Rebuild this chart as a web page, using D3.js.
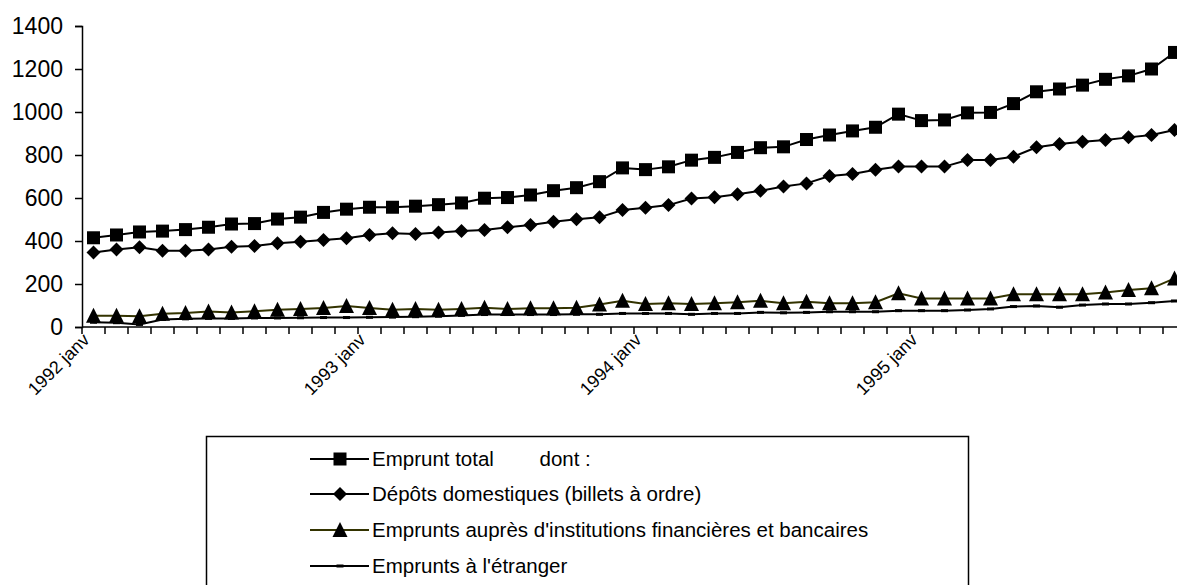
<!DOCTYPE html>
<html><head><meta charset="utf-8">
<script src="https://cdnjs.cloudflare.com/ajax/libs/d3/7.8.5/d3.min.js"></script>
<style>
html,body{margin:0;padding:0;background:#fff;overflow:hidden}
svg{display:block;font-family:"Liberation Sans",Arial,sans-serif}
</style></head><body>
<svg id="chart" width="1177" height="585"></svg>
<script>
// ---- data ----
const years = [1992, 1993, 1994, 1995];
const monthsFr = ["janv","févr","mars","avr","mai","juin","juil","août","sept","oct","nov","déc"];
const categories = years.flatMap(yr => monthsFr.map(m => yr + " " + m));
const tickLabels = ["1992 janv","1993 janv","1994 janv","1995 janv"];
const yTicks = [0,200,400,600,800,1000,1200,1400];

const empruntTotal = [415,428,442,446,453,464,479,481,502,511,533,548,557,557,562,569,577,
  599,602,614,634,648,676,740,732,745,776,789,812,834,838,872,893,912,
  929,990,960,963,996,998,1039,1094,1107,1125,1152,1168,1200,1277];
const depotsDomestiques = [347,361,371,355,355,361,373,377,389,397,405,413,428,436,433,440,447,
  451,464,474,490,501,510,544,555,567,598,603,617,634,653,668,702,712,
  731,746,746,746,777,777,792,836,851,862,870,882,893,916];
const empruntsInstitutions = [52,52,50,62,65,72,68,73,80,84,88,98,88,80,84,80,84,
  90,84,87,87,90,105,122,107,110,107,110,115,122,110,118,110,110,
  115,157,133,133,133,133,152,152,152,152,161,172,180,226];
const empruntsEtranger = [22,20,12,35,38,40,40,42,42,43,44,44,45,46,48,50,54,
  58,58,58,58,59,59,63,63,63,59,63,63,68,66,68,71,71,
  71,76,76,76,79,84,95,98,92,102,107,107,113,121];

const seriesNames = ["Emprunt total        dont :",
  "Dépôts domestiques (billets à ordre)",
  "Emprunts auprès d'institutions financières et bancaires",
  "Emprunts à l'étranger"];

// ---- layout ----
const svg = d3.select("#chart");
const mLeft = 82, mTop = 26, mBottom = 327, step = 23;
const x = d3.scaleBand().domain(categories).range([mLeft, mLeft + step*categories.length]).padding(0);
const y = d3.scaleLinear().domain([0,1400]).range([mBottom, mTop]);
const cx = d => x(d) + x.bandwidth()/2;

const series = [
  {name: seriesNames[0], values: empruntTotal, color:"#000", marker:"square"},
  {name: seriesNames[1], values: depotsDomestiques, color:"#000", marker:"diamond"},
  {name: seriesNames[2], values: empruntsInstitutions, color:"#333300", marker:"triangle"},
  {name: seriesNames[3], values: empruntsEtranger, color:"#000", marker:"dash"}
];

function drawMarker(g, type, px, py) {
  if (type === "square") {
    g.append("rect").attr("x", px-6.5).attr("y", py-6.5).attr("width", 13).attr("height", 13).attr("fill","#000");
  } else if (type === "diamond") {
    g.append("path").attr("d", `M${px},${py-7}L${px+7},${py}L${px},${py+7}L${px-7},${py}Z`).attr("fill","#000");
  } else if (type === "triangle") {
    g.append("path").attr("d", `M${px},${py-8}L${px+7.5},${py+7}L${px-7.5},${py+7}Z`).attr("fill","#000");
  } else {
    g.append("rect").attr("x", px-3.5).attr("y", py-1.5).attr("width", 7).attr("height", 3).attr("fill","#000");
  }
}

// y axis
const yAxis = d3.axisLeft(y).tickValues(yTicks).tickSize(7).tickPadding(12).tickFormat(d3.format("d"));
const gy = svg.append("g").attr("transform", `translate(${mLeft},0)`).call(yAxis);
gy.select(".domain").attr("stroke","#000").attr("stroke-width",1.5);
gy.selectAll(".tick line").attr("stroke","#000").attr("stroke-width",1.5);
gy.selectAll(".tick text").attr("font-size", 23).attr("fill","#000").attr("font-family","Liberation Sans, Arial");

// x axis: ticks at category boundaries
const gx = svg.append("g");
gx.append("line").attr("x1", mLeft).attr("x2", mLeft + step*categories.length).attr("y1", mBottom).attr("y2", mBottom)
  .attr("stroke","#000").attr("stroke-width",1.5);
const boundaries = d3.range(categories.length + 1);
gx.selectAll("line.tk").data(boundaries).join("line").attr("class","tk")
  .attr("x1", i => mLeft + i*step).attr("x2", i => mLeft + i*step)
  .attr("y1", mBottom).attr("y2", mBottom + 7).attr("stroke","#000").attr("stroke-width",1.5);
gx.selectAll("text.xl").data(tickLabels).join("text").attr("class","xl")
  .attr("transform", d => `translate(${cx(d)-3},${mBottom+14}) rotate(-45)`)
  .attr("text-anchor","end").attr("font-size",18).attr("fill","#000").text(d => d);

// lines and markers
const line = d3.line().x((d,i) => cx(categories[i])).y(d => y(d));
const plot = svg.append("g");
series.slice().reverse().forEach(s => {
  plot.append("path").datum(s.values).attr("d", line).attr("fill","none")
    .attr("stroke", s.color).attr("stroke-width", 2);
});
series.slice().reverse().forEach(s => {
  const g = plot.append("g");
  s.values.forEach((v,i) => drawMarker(g, s.marker, cx(categories[i]), y(v)));
});

// legend
const lg = svg.append("g");
lg.append("rect").attr("x", 206.5).attr("y", 436.5).attr("width", 762).attr("height", 170)
  .attr("fill","#fff").attr("stroke","#000").attr("stroke-width",1.5);
const rowY = [459, 494, 530, 566];
series.forEach((s,i) => {
  const ry = rowY[i];
  lg.append("line").attr("x1",310).attr("x2",369).attr("y1",ry).attr("y2",ry)
    .attr("stroke", s.color).attr("stroke-width",2);
  drawMarker(lg, s.marker, 340, ry);
  lg.append("text").attr("x", 372).attr("y", ry).attr("dy","0.35em")
    .attr("font-size",20.5).attr("fill","#000").style("white-space","pre").text(s.name);
});
</script>
</body></html>
